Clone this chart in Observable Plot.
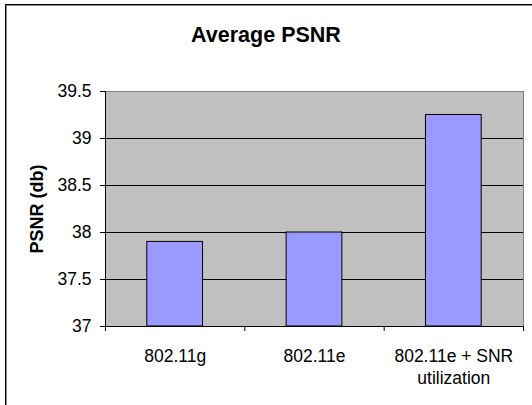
<!DOCTYPE html>
<html>
<head>
<meta charset="utf-8">
<script src="https://cdn.jsdelivr.net/npm/d3@7"></script>
<script src="https://cdn.jsdelivr.net/npm/@observablehq/plot@0.6"></script>
<style>
  html, body { margin: 0; padding: 0; background: #fff; }
  #wrap { position: relative; width: 532px; height: 405px; overflow: hidden; }
  #border { position: absolute; left: 5px; top: 4px; width: 600px; height: 500px;
            border-left: 1px solid #000; border-top: 1px solid #000;
            box-shadow: inset 1px 1px 0 #888; }
  #chart { position: absolute; left: 0; top: 0; }
  #title { position: absolute; left: 0; top: 23px; width: 532px; text-align: center;
           font-family: 'Liberation Sans', Arial, sans-serif; font-weight: bold; font-size: 21.5px;
           line-height: 25px; color: #000; }
</style>
</head>
<body>
<div id="wrap"><div id="border"></div><div id="chart"></div><div id="title"></div></div>
<script>
const title = "Average PSNR";
const yLabel = "PSNR (db)";
const categories = ["802.11g", "802.11e", "802.11e + SNR\nutilization"];
const psnr = [37.9, 38.0, 39.25];
const yTicks = [37, 37.5, 38, 38.5, 39, 39.5];

const data = categories.map((c, i) => ({i, c, v: psnr[i]}));
const gridValues = yTicks.slice(1, -1);
const yMin = yTicks[0], yMax = yTicks[yTicks.length - 1];
const n = categories.length;
const catEdges = d3.range(n + 1);
const gap = 0.3; // Excel gap width 150%

document.getElementById("title").textContent = title;

const chart = Plot.plot({
  width: 532,
  height: 405,
  marginLeft: 105,
  marginRight: 9,
  marginTop: 91,
  marginBottom: 79,
  style: { background: "transparent", fontFamily: "'Liberation Sans', Arial, sans-serif", fontSize: "17.5px", color: "#000" },
  x: { domain: [0, n], axis: null },
  y: { domain: [yMin, yMax], axis: null },
  marks: [
    Plot.frame({ fill: "#c0c0c0", stroke: "#808080" }),
    Plot.ruleY(gridValues, { stroke: "#000" }),
    Plot.rect(data, { x1: d => d.i + gap, x2: d => d.i + 1 - gap, y1: yMin, y2: "v", fill: "#9999ff", stroke: "#000", strokeWidth: 1 }),
    Plot.ruleY([yMin], { stroke: "#000" }),
    Plot.ruleX([0], { stroke: "#000" }),
    Plot.axisY({ ticks: yTicks, tickSize: 5, tickPadding: 9, tickFormat: d => String(d), label: null }),
    Plot.axisX({ ticks: catEdges, tickSize: 5, tickFormat: () => "", label: null }),
    Plot.text(data, { x: d => d.i + 0.5, text: "c", frameAnchor: "bottom", lineAnchor: "top", dy: 19, lineHeight: 1.3, fontSize: 17.5 }),
    Plot.text([yLabel], { frameAnchor: "left", dx: -68, rotate: -90, textAnchor: "middle", lineAnchor: "middle", fontWeight: "bold", fontSize: 18 })
  ]
});
document.getElementById("chart").appendChild(chart);
</script>
</body>
</html>
